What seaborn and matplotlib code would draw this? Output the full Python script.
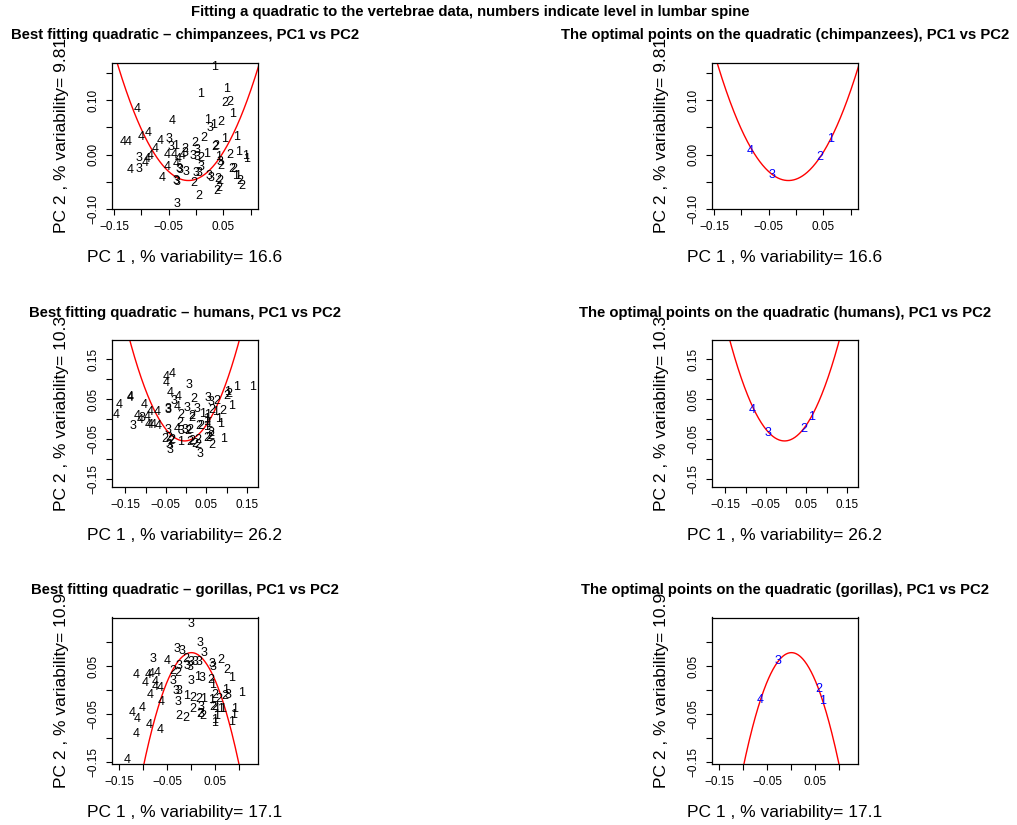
import numpy as np
import seaborn as sns
import matplotlib
matplotlib.use("Agg")
import matplotlib.pyplot as plt

# percent variability of the first two PCs
species = ["chimpanzees", "humans", "gorillas"]
pc1_var = [16.6, 26.2, 17.1]
pc2_var = [9.81, 10.3, 10.9]

# chimpanzees: lumbar level, PC1, PC2
chimp_lab = ["1", "4", "1", "1", "2", "2", "1", "4", "1", "3", "1", "2", "4", "4", "4", "4",
             "4", "3", "2", "2", "1", "1", "3", "1", "2", "3", "3", "2", "2", "2", "1", "1",
             "1", "4", "4", "4", "3", "4", "4", "3", "4", "4", "4", "3", "4", "3", "3", "3",
             "3", "2", "1", "3", "1", "3", "2", "2", "2", "1", "1", "2", "2", "3", "3", "2",
             "3", "3", "2", "2", "2", "2", "2", "4", "3", "3", "3", "4", "4"]
chimp_x = [0.034, -0.108, 0.056, 0.009, 0.053, 0.061, 0.067, -0.044, 0.022, 0.026, 0.032, 0.045,
           -0.101, -0.088, -0.133, -0.124, -0.066, -0.049, -0.003, 0.014, 0.052, 0.075, -0.046,
           -0.038, -0.021, -0.020, 0.001, 0.034, 0.037, 0.061, 0.077, 0.090, 0.093, -0.075,
           -0.084, -0.090, -0.104, -0.093, -0.120, -0.104, -0.052, -0.040, -0.036, -0.032,
           -0.052, -0.029, -0.018, -0.005, 0.001, 0.008, 0.019, 0.009, 0.042, 0.043, 0.045,
           0.066, 0.070, 0.072, 0.076, 0.080, 0.084, 0.000, 0.006, -0.004, 0.023, 0.027, 0.039,
           0.043, 0.038, 0.042, 0.006, -0.062, -0.036, -0.034, -0.035, -0.032, -0.026]
chimp_y = [0.161, 0.084, 0.121, 0.111, 0.095, 0.096, 0.075, 0.062, 0.063, 0.048, 0.055, 0.060,
           0.032, 0.040, 0.023, 0.023, 0.024, 0.029, 0.021, 0.031, 0.028, 0.032, 0.014, 0.015,
           0.010, 0.003, 0.009, 0.014, 0.015, 0.000, 0.004, -0.002, -0.008, 0.011, -0.003,
           -0.008, -0.007, -0.015, -0.028, -0.026, 0.000, 0.000, -0.018, -0.026, -0.023,
           -0.028, -0.032, -0.002, -0.004, -0.006, 0.001, -0.023, -0.005, -0.014, -0.021,
           -0.027, -0.027, -0.039, -0.040, -0.048, -0.059, -0.034, -0.034, -0.053, -0.040,
           -0.044, -0.045, -0.049, -0.067, -0.061, -0.077, -0.043, -0.048, -0.051, -0.092,
           -0.009, -0.002]

# humans
human_lab = ["4", "4", "4", "3", "1", "1", "1", "2", "2", "4", "3", "4", "4", "4", "4", "2",
             "3", "2", "1", "4", "4", "4", "3", "3", "3", "3", "2", "2", "2", "3", "2", "1",
             "2", "1", "1", "4", "4", "4", "3", "4", "3", "4", "4", "4", "4", "4", "1", "1",
             "1", "1", "2", "2", "2", "1", "1", "3", "4", "3", "3", "2", "2", "2", "2", "2",
             "2", "1", "2", "2", "2", "2", "2", "2", "2", "2", "2", "2", "1", "3", "3", "3"]
human_x = [-0.050, -0.034, -0.050, 0.008, 0.125, 0.165, 0.103, 0.100, 0.105, -0.040, -0.031,
           -0.019, -0.023, -0.139, -0.138, 0.018, 0.053, 0.076, 0.113, -0.165, -0.173, -0.104,
           -0.044, -0.044, 0.002, 0.026, -0.012, 0.014, 0.014, 0.062, 0.064, 0.072, 0.091,
           0.040, 0.054, -0.089, -0.071, -0.122, -0.108, -0.097, -0.132, -0.114, -0.095,
           -0.088, -0.081, -0.068, 0.050, 0.051, 0.080, 0.084, -0.015, 0.031, 0.036, 0.050,
           0.055, -0.044, -0.023, -0.012, -0.003, 0.003, 0.008, -0.052, -0.044, -0.035,
           -0.039, -0.015, 0.008, 0.014, 0.022, 0.030, 0.028, 0.050, 0.055, 0.060, 0.062,
           0.064, 0.092, -0.042, -0.040, 0.035]
human_y = [0.106, 0.114, 0.090, 0.085, 0.081, 0.081, 0.069, 0.059, 0.063, 0.066, 0.046, 0.056,
           0.031, 0.056, 0.054, 0.050, 0.052, 0.046, 0.032, 0.036, 0.011, 0.036, 0.026, 0.024,
           0.029, 0.025, 0.011, 0.008, 0.002, 0.042, 0.023, 0.019, 0.021, 0.013, 0.011, 0.017,
           0.019, 0.008, 0.003, 0.005, -0.017, -0.003, -0.014, -0.014, -0.014, -0.016, 0.000,
           -0.006, 0.000, -0.012, -0.010, -0.017, -0.017, -0.020, -0.012, -0.027, -0.025,
           -0.028, -0.026, -0.028, -0.026, -0.050, -0.047, -0.052, -0.054, -0.056, -0.056,
           -0.054, -0.061, -0.051, -0.064, -0.047, -0.047, -0.035, -0.041, -0.065, -0.050,
           -0.064, -0.076, -0.086]

# gorillas
gorilla_lab = ["3", "3", "3", "3", "3", "3", "4", "2", "3", "3", "3", "3", "3", "3", "3", "2",
               "2", "1", "2", "2", "3", "4", "4", "4", "4", "4", "4", "4", "4", "3", "3", "1",
               "3", "2", "1", "4", "3", "3", "1", "2", "2", "1", "2", "1", "2", "3", "1", "1",
               "2", "4", "3", "2", "3", "3", "2", "2", "2", "2", "1", "1", "1", "1", "4", "4",
               "4", "2", "2", "1", "1", "1", "1", "1", "4", "4", "4", "4"]
gorilla_x = [0.000, 0.017, -0.031, -0.020, 0.027, -0.079, -0.051, -0.011, 0.000, 0.008, 0.016,
             -0.010, -0.004, 0.042, 0.044, 0.061, 0.074, 0.083, -0.038, -0.029, -0.026, -0.115,
             -0.090, -0.083, -0.071, -0.097, -0.076, -0.076, -0.065, -0.038, 0.000, 0.013,
             0.023, 0.041, 0.043, -0.086, -0.032, -0.026, -0.011, 0.003, 0.015, 0.025, 0.049,
             0.072, 0.070, 0.077, 0.105, 0.042, 0.056, -0.064, -0.028, 0.003, 0.020, 0.019,
             0.017, 0.023, 0.044, 0.049, 0.053, 0.061, 0.065, 0.089, -0.102, -0.123, -0.113,
             -0.027, -0.011, 0.053, 0.049, 0.049, 0.088, 0.084, -0.088, -0.065, -0.116, -0.133]
gorilla_y = [0.138, 0.098, 0.085, 0.081, 0.077, 0.064, 0.060, 0.064, 0.058, 0.058, 0.058, 0.051,
             0.048, 0.055, 0.048, 0.063, 0.041, 0.025, 0.039, 0.036, 0.049, 0.031, 0.031, 0.034,
             0.035, 0.015, 0.017, 0.006, 0.005, 0.018, 0.018, 0.027, 0.024, 0.020, 0.010,
             -0.010, -0.003, -0.003, -0.013, -0.016, -0.020, -0.020, -0.011, 0.000, -0.013,
             -0.011, -0.006, -0.022, -0.020, -0.026, -0.026, -0.039, -0.035, -0.050, -0.051,
             -0.055, -0.035, -0.035, -0.039, -0.040, -0.040, -0.040, -0.038, -0.048, -0.060,
             -0.055, -0.058, -0.055, -0.062, -0.069, -0.053, -0.068, -0.074, -0.083, -0.092,
             -0.147]

# fitted quadratics y = a * (x - x0)^2 + y0
quad_a = [12.8, 13.7, -23.8]
quad_x0 = [-0.014, -0.004, 0.0]
quad_y0 = [-0.048, -0.054, 0.078]

# optimal points on the quadratic, one per lumbar level
opt_lab = ["4", "3", "2", "1"]
chimp_opt_x = [-0.083, -0.044, 0.043, 0.064]
chimp_opt_y = [0.007, -0.037, -0.005, 0.029]
human_opt_x = [-0.084, -0.044, 0.044, 0.063]
human_opt_y = [0.023, -0.035, -0.024, 0.005]
gorilla_opt_x = [-0.066, -0.029, 0.056, 0.065]
gorilla_opt_y = [-0.022, 0.060, 0.002, -0.023]

panels = [
    dict(lab=chimp_lab, x=chimp_x, y=chimp_y, ox=chimp_opt_x, oy=chimp_opt_y,
         xlim=(-0.1542, 0.1137), ylim=(-0.1005, 0.1697),
         xt=[-0.15, -0.10, -0.05, 0.0, 0.05, 0.10], xshow=[-0.15, -0.05, 0.05],
         yt=[-0.10, -0.05, 0.0, 0.05, 0.10, 0.15], yshow=[-0.10, 0.0, 0.10]),
    dict(lab=human_lab, x=human_x, y=human_y, ox=human_opt_x, oy=human_opt_y,
         xlim=(-0.184, 0.178), ylim=(-0.168, 0.197),
         xt=[-0.15, -0.10, -0.05, 0.0, 0.05, 0.10, 0.15], xshow=[-0.15, -0.05, 0.05, 0.15],
         yt=[-0.15, -0.10, -0.05, 0.0, 0.05, 0.10, 0.15], yshow=[-0.15, -0.05, 0.05, 0.15]),
    dict(lab=gorilla_lab, x=gorilla_x, y=gorilla_y, ox=gorilla_opt_x, oy=gorilla_opt_y,
         xlim=(-0.166, 0.139), ylim=(-0.155, 0.1515),
         xt=[-0.15, -0.10, -0.05, 0.0, 0.05, 0.10], xshow=[-0.15, -0.05, 0.05],
         yt=[-0.15, -0.10, -0.05, 0.0, 0.05, 0.10], yshow=[-0.15, -0.05, 0.05]),
]

sns.set_style("ticks")
plt.rcParams["font.family"] = ["Liberation Sans", "DejaVu Sans"]
plt.rcParams["text.color"] = "black"
plt.rcParams["axes.labelcolor"] = "black"
plt.rcParams["xtick.color"] = "black"
plt.rcParams["ytick.color"] = "black"


def fmt(v, show):
    # R leaves out tick labels that would collide
    if not any(abs(v - s) < 1e-9 for s in show):
        return ""
    return f"{v:.2f}".replace("-", "\u2212")


def style_axes(ax, p, i):
    ax.set_xlim(*p["xlim"])
    ax.set_ylim(*p["ylim"])
    ax.set_xticks(p["xt"])
    ax.set_xticklabels([fmt(v, p["xshow"]) for v in p["xt"]])
    ax.set_yticks(p["yt"])
    ax.set_yticklabels([fmt(v, p["yshow"]) for v in p["yt"]], rotation=90, va="center")
    ax.tick_params(length=4.3, width=0.8, labelsize=8.5, pad=4.5,
                   color="black", labelcolor="black")
    for s in ax.spines.values():
        s.set_color("black")
        s.set_linewidth(0.9)
    ax.set_xlabel(f"PC 1 , % variability= {pc1_var[i]}", fontsize=12.5, color="black")
    ax.set_ylabel(f"PC 2 , % variability= {pc2_var[i]}", fontsize=12.5, color="black")
    ax.xaxis.set_label_coords(0.5, -0.334)
    ax.xaxis.label.set_verticalalignment("center")
    ax.yaxis.set_label_coords(-0.341, 0.5)
    ax.yaxis.label.set_verticalalignment("center")


fig = plt.figure(figsize=(10.17, 8.25), dpi=100)
W, H = 1017, 825
box = 146.5
lefts = [111.7, 711.7]
bottoms = [209, 486.7, 764]

for i, p in enumerate(panels):
    xs = np.linspace(p["xlim"][0] - 0.02, p["xlim"][1] + 0.02, 300)
    ys = quad_a[i] * (xs - quad_x0[i]) ** 2 + quad_y0[i]
    for j in range(2):
        ax = fig.add_axes([lefts[j] / W, 1 - bottoms[i] / H, box / W, box / H])
        sns.lineplot(x=xs, y=ys, color="red", linewidth=1.0, ax=ax, sort=False)
        if j == 0:
            for t, x, y in zip(p["lab"], p["x"], p["y"]):
                ax.text(x, y, t, ha="center", va="center", fontsize=9, color="black")
            title = f"Best fitting quadratic \u2013 {species[i]}, PC1 vs PC2"
        else:
            for t, x, y in zip(opt_lab, p["ox"], p["oy"]):
                ax.text(x, y, t, ha="center", va="center", fontsize=9, color="blue")
            title = f"The optimal points on the quadratic ({species[i]}), PC1 vs PC2"
        style_axes(ax, p, i)
        ax.text(0.5, 1.189, title, transform=ax.transAxes, ha="center", va="center",
                fontsize=10.7, fontweight="bold", color="black")

fig.text(0.462, 1 - 12 / H,
         "Fitting a quadratic to the vertebrae data, numbers indicate level in lumbar spine",
         ha="center", va="center", fontsize=10.7, fontweight="bold", color="black")

fig.savefig("out.png", dpi=100)
